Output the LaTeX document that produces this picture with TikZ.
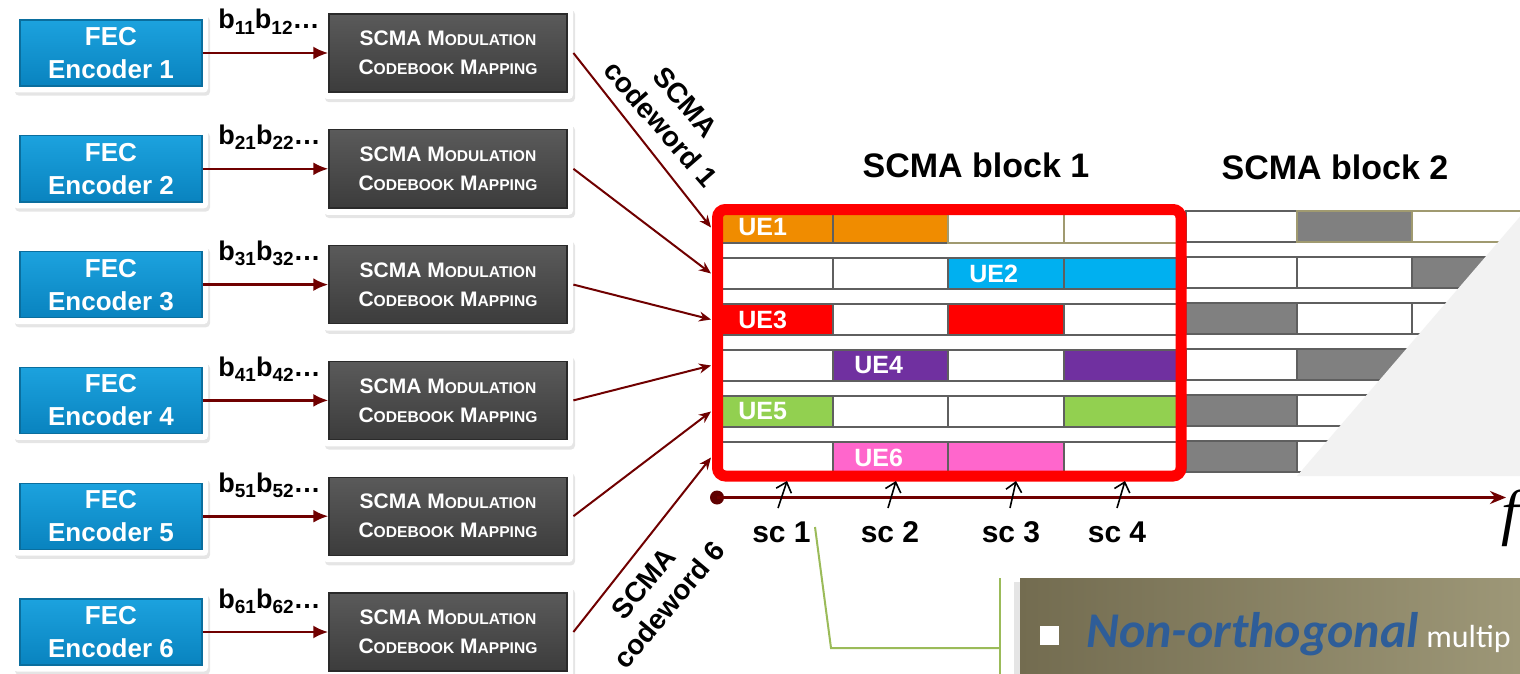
\documentclass[tikz,border=0pt]{standalone}
\usepackage{fontspec}
\setmainfont{Liberation Sans}
\newfontfamily\calfont{Carlito}
\newfontfamily\serfont{Liberation Serif}
\usetikzlibrary{arrows.meta,shadows,calc}

\definecolor{arrred}{HTML}{700000}
\definecolor{fectop}{HTML}{1CA2DE}
\definecolor{fecbot}{HTML}{0983BF}
\definecolor{fecedge}{HTML}{0A6E9E}
\definecolor{darktop}{HTML}{5A5A5A}
\definecolor{darkbot}{HTML}{3C3C3C}
\definecolor{darkedge}{HTML}{2A2A2A}
\definecolor{cellline}{HTML}{5F5F5F}
\definecolor{oliveline}{HTML}{A09A70}
\definecolor{ueorange}{HTML}{F08C00}
\definecolor{uecyan}{HTML}{00B0F0}
\definecolor{uered}{HTML}{FF0000}
\definecolor{uepurple}{HTML}{7030A0}
\definecolor{uegreen}{HTML}{92D050}
\definecolor{uepink}{HTML}{FF66CC}
\definecolor{blkgrey}{HTML}{808080}
\definecolor{trigrey}{HTML}{F2F2F2}
\definecolor{calloutA}{HTML}{736C50}
\definecolor{calloutB}{HTML}{9E9878}
\definecolor{ncblue}{HTML}{2E5D98}
\definecolor{callgreen}{HTML}{9BBB59}

\tikzset{
  fecframe/.style={fill=white, rounded corners=2pt, minimum width=97.5pt, minimum height=39.5pt,
    inner sep=0pt, drop shadow={opacity=0.2, shadow xshift=1pt, shadow yshift=-1.6pt}},
  fecbox/.style={draw=fecedge, line width=0.7pt, top color=fectop, bottom color=fecbot,
    minimum width=91pt, minimum height=33pt, inner sep=0pt, text=white, align=center,
    font=\bfseries\fontsize{13}{16.5}\selectfont},
  scframe/.style={fill=white, rounded corners=2pt, minimum width=125pt, minimum height=46pt,
    inner sep=0pt, drop shadow={opacity=0.2, shadow xshift=1pt, shadow yshift=-1.6pt}},
  scbox/.style={draw=darkedge, line width=0.7pt, top color=darktop, bottom color=darkbot,
    minimum width=119pt, minimum height=39pt, inner sep=0pt, text=white, align=center,
    font=\bfseries\fontsize{10.5}{14.5}\selectfont},
  blabel/.style={inner sep=0pt, font=\bfseries\fontsize{13.5}{15}\selectfont},
  arr/.style={draw=arrred, line width=1.3pt, -{Latex[length=7.5pt,width=6.5pt]}},
  inarr/.style={draw=arrred, line width=1pt, -{Stealth[length=6pt,width=5pt]}},
  axisarr/.style={draw=arrred, line width=1.6pt, -{Stealth[length=8pt,width=6.5pt]}},
  scarr/.style={draw=black, line width=0.8pt, -{Straight Barb[length=4.5pt,width=8pt]}},
  cell/.style={draw=cellline, line width=0.9pt},
  uelab/.style={anchor=west, inner sep=0pt, text=white, font=\bfseries\fontsize{12.5}{14}\selectfont},
  title/.style={inner sep=0pt, font=\bfseries\fontsize{17}{20}\selectfont},
  cwlab/.style={inner sep=0pt, align=center, font=\bfseries\fontsize{14}{16.5}\selectfont},
  sclab/.style={anchor=base, inner sep=0pt, font=\bfseries\fontsize{15}{18}\selectfont},
}
\newcommand{\smallcap}[1]{{\fontsize{7.8}{14.5}\selectfont #1}}
\newcommand{\bsub}[1]{\raisebox{-2.6pt}{\fontsize{9.5}{10}\selectfont #1}}

\begin{document}
\begin{tikzpicture}[x=0.5pt,y=-0.5pt]
\useasboundingbox (0,0) rectangle (1520,674);
\fill[white] (0,0) rectangle (1520,674);

% ---------- left column: encoders and modulators ----------
\foreach \r in {1,...,6}{
  \pgfmathsetmacro\yc{53+115.8*(\r-1)}
  \node[fecframe] (fecf\r) at (110.5,\yc) {};
  \node[fecbox] (fec\r) at (111,\yc) {FEC\\Encoder \r};
  \node[scframe] (scf\r) at (448,\yc) {};
  \node[scbox] (sc\r) at (448,\yc) {SCMA M\smallcap{ODULATION}\\C\smallcap{ODEBOOK} M\smallcap{APPING}};
  \draw[arr] (fec\r.east) -- (sc\r.west);
  \node[blabel, anchor=base west] (b\r) at (218,\yc-24) {b\bsub{\r1}b\bsub{\r2}…};
}

% ---------- SCMA block 2 (grey) ----------
\foreach \r/\ca/\cb/\cc in {1/white/blkgrey/white, 2/white/white/blkgrey, 3/blkgrey/white/white,
                            4/white/blkgrey/white, 5/blkgrey/white/white, 6/blkgrey/white/white}{
  \pgfmathsetmacro\yt{211+46*(\r-1)}
  \pgfmathsetmacro\yb{\yt+31}
  \draw[cell, fill=\ca] (1186,\yt) rectangle (1297,\yb);
  \draw[cell, fill=\cb] (1297,\yt) rectangle (1412,\yb);
  \draw[cell, fill=\cc] (1412,\yt) rectangle (1540,\yb);
}
\draw[oliveline, line width=0.9pt, fill=blkgrey] (1297,211) rectangle (1412,242);
\draw[oliveline, line width=0.9pt] (1412,211) -- (1540,211) (1412,242) -- (1540,242);

% ---------- SCMA block 1 ----------
\foreach \r/\ca/\cb/\cc/\cd in {1/ueorange/ueorange/white/white, 2/white/white/uecyan/uecyan,
                                3/uered/white/uered/white, 4/white/uepurple/white/uepurple,
                                5/uegreen/white/white/uegreen, 6/white/uepink/uepink/white}{
  \pgfmathsetmacro\yt{212+46*(\r-1)}
  \pgfmathsetmacro\yb{\yt+31}
  \draw[cell, fill=\ca] (718,\yt) rectangle (833,\yb);
  \draw[cell, fill=\cb] (833,\yt) rectangle (948,\yb);
  \draw[cell, fill=\cc] (948,\yt) rectangle (1064,\yb);
  \draw[cell, fill=\cd] (1064,\yt) rectangle (1180,\yb);
}
\draw[oliveline, line width=0.9pt] (948,212) rectangle (1064,243) (1064,212) rectangle (1180,243);

% UE labels
\node[uelab] (ue1) at (738,227.5) {UE1};
\node[uelab] (ue2) at (969,273.5) {UE2};
\node[uelab] (ue3) at (738,319.5) {UE3};
\node[uelab] (ue4) at (854,365.5) {UE4};
\node[uelab] (ue5) at (738,411.5) {UE5};
\node[uelab] (ue6) at (854,457.5) {UE6};

% grey triangle over block 2
\fill[trigrey] (1297,476) -- (1530,476) -- (1530,205) -- cycle;

% red frame of block 1
\draw[red, line width=5.5pt, rounded corners=4pt] (717.5,209.5) rectangle (1181,476);

% titles
\node[title] (t1) at (976,165) {SCMA block 1};
\node[title] (t2) at (1335,167) {SCMA block 2};

% connectors into the block
\foreach \r in {1,...,6}{
  \coordinate (in\r) at (711,{227.5+46*(\r-1)});
  \draw[inarr] (scf\r.east) -- (in\r);
}

% codeword labels
\node[cwlab, rotate=-49] (cw1) at (673,113) {SCMA\\codeword 1};
\node[cwlab, rotate=50] (cw6) at (656,594) {SCMA\\codeword 6};

% frequency axis
\node[circle, fill=arrred!85!black, minimum size=7pt, inner sep=0pt] (dot) at (717,497.5) {};
\coordinate (fend) at (1506,497.5);
\draw[axisarr] (dot.center) -- (fend);
\node[inner sep=0pt] (fl) at (1510,518) {\serfont\itshape\fontsize{31}{33}\selectfont f};

% subcarrier arrows and labels
\foreach \i/\xa/\xb/\xl in {1/778/787/781.5, 2/888/896/890, 3/1010/1016/1011, 4/1117/1125/1117}{
  \coordinate (sca\i) at (\xa,508);
  \coordinate (scb\i) at (\xb,481);
  \draw[scarr] (sca\i) -- (scb\i);
  \node[sclab] (scl\i) at (\xl,542) {sc \i};
}

% callout
\fill[black, opacity=0.10] (1014,582) rectangle (1530,690);
\shade[left color=calloutA, right color=calloutB] (1020,578) rectangle (1530,690);
\coordinate (g1) at (815,527);
\coordinate (g2) at (831,648);
\coordinate (g3) at (1000,648);
\coordinate (g4) at (1000,578);
\coordinate (g5) at (1000,690);
\draw[callgreen, line width=1pt] (g1) -- (g2) -- (g3);
\draw[callgreen, line width=1pt] (g4) -- (g5);
\node[fill=white, minimum size=9.5pt, inner sep=0pt] (bul) at (1049.5,635.5) {};
\node[anchor=base west, inner sep=0pt] (nonorth) at (1086,647)
  {\calfont{\color{ncblue}\bfseries\itshape\fontsize{25}{30}\selectfont Non-orthogonal}{\color{white}\fontsize{16}{19}\selectfont\ multip}};
\end{tikzpicture}
\end{document}
